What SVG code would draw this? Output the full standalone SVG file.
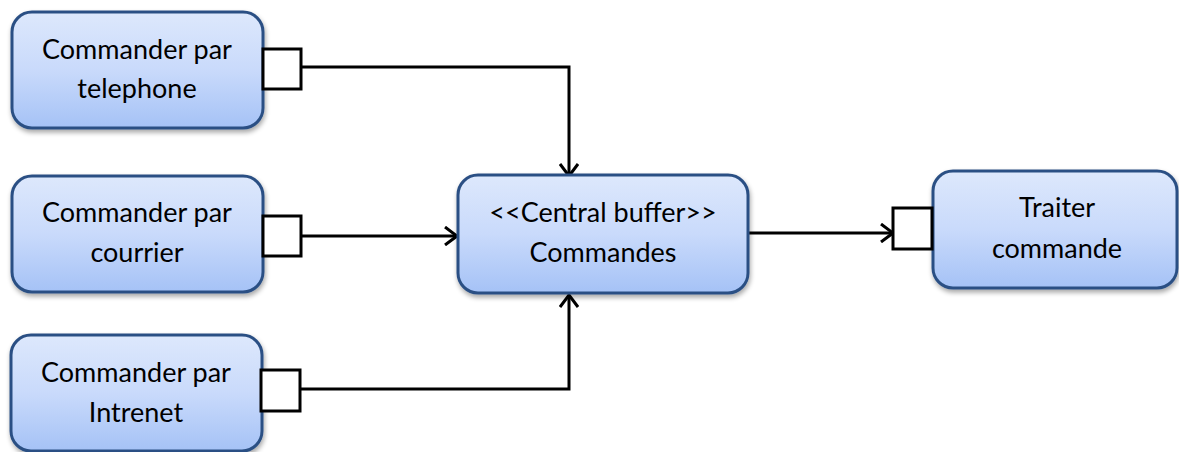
<svg xmlns="http://www.w3.org/2000/svg" width="1179" height="452" viewBox="0 0 1179 452">
  <defs>
    <linearGradient id="boxFill" x1="0" y1="0" x2="0" y2="1">
      <stop offset="0" stop-color="#dde8fc"/>
      <stop offset="0.5" stop-color="#c9dafb"/>
      <stop offset="1" stop-color="#a5c2f6"/>
    </linearGradient>
    <filter id="shadow" x="-10%" y="-10%" width="120%" height="130%">
      <feGaussianBlur in="SourceAlpha" stdDeviation="2.5"/>
      <feOffset dx="1" dy="3" result="b"/>
      <feComponentTransfer><feFuncA type="linear" slope="0.35"/></feComponentTransfer>
      <feMerge><feMergeNode/><feMergeNode in="SourceGraphic"/></feMerge>
    </filter>
    <marker id="open" viewBox="0 0 14 20" refX="13" refY="10" markerWidth="14" markerHeight="20" markerUnits="userSpaceOnUse" orient="auto">
      <path d="M1,1 L13,10 L1,19" fill="none" stroke="#000" stroke-width="3"/>
    </marker>
  </defs>
  <style>
    .box { fill: url(#boxFill); stroke: #2b5084; stroke-width: 3; filter: url(#shadow); }
    .port { fill: #fff; stroke: #000; stroke-width: 3; }
    .lbl { font-family: Lato, "Open Sans", sans-serif; font-size: 27px; fill: #000; text-anchor: middle; }
    .edge { fill: none; stroke: #000; stroke-width: 3; }
  </style>
  <rect width="1179" height="452" fill="#fff"/>

  <g id="connectors">
    <path class="edge" d="M301,67 H569 V176" marker-end="url(#open)"/>
    <path class="edge" d="M301,236 H457" marker-end="url(#open)"/>
    <path class="edge" d="M300,389 H569 V295" marker-end="url(#open)"/>
    <path class="edge" d="M748,233 H893" marker-end="url(#open)"/>
  </g>

  <g id="node-telephone">
    <rect class="box" x="12" y="12" width="251" height="116" rx="20"/>
    <rect class="port" x="263" y="49" width="38" height="40"/>
    <text class="lbl" x="137" y="59">Commander par</text>
    <text class="lbl" x="137" y="98">telephone</text>
  </g>

  <g id="node-courrier">
    <rect class="box" x="12" y="176" width="251" height="116" rx="20"/>
    <rect class="port" x="263" y="216" width="38" height="40"/>
    <text class="lbl" x="137" y="222">Commander par</text>
    <text class="lbl" x="137" y="262">courrier</text>
  </g>

  <g id="node-internet">
    <rect class="box" x="11" y="335" width="251" height="116" rx="20"/>
    <rect class="port" x="261" y="370" width="39" height="41"/>
    <text class="lbl" x="136" y="382">Commander par</text>
    <text class="lbl" x="136" y="422">Intrenet</text>
  </g>

  <g id="node-buffer">
    <rect class="box" x="458" y="175" width="290" height="118" rx="20"/>
    <text class="lbl" x="603" y="222">&lt;&lt;Central buffer&gt;&gt;</text>
    <text class="lbl" x="603" y="262">Commandes</text>
  </g>

  <g id="node-traiter">
    <rect class="box" x="933" y="171" width="244" height="117" rx="20"/>
    <rect class="port" x="893" y="208" width="39" height="41"/>
    <text class="lbl" x="1057" y="217">Traiter</text>
    <text class="lbl" x="1057" y="258">commande</text>
  </g>
</svg>
